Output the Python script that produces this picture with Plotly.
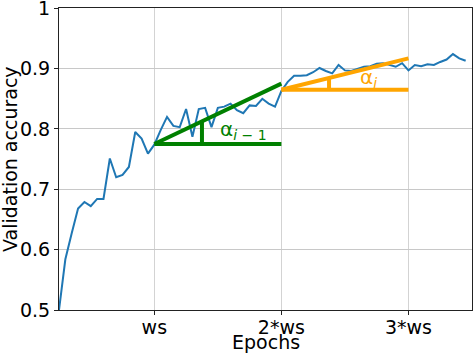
import plotly.graph_objects as go

epochs = list(range(5, 70))
accuracy = [0.500, 0.584, 0.627, 0.668, 0.679, 0.672, 0.684, 0.684, 0.751, 0.720,
            0.724, 0.737, 0.795, 0.784, 0.759, 0.774,
            0.798, 0.820, 0.805, 0.803, 0.833, 0.787, 0.833, 0.835, 0.803, 0.835,
            0.837, 0.842, 0.831, 0.826, 0.839, 0.838, 0.850, 0.842, 0.837,
            0.863, 0.878, 0.888, 0.888, 0.889, 0.894, 0.901, 0.896, 0.892, 0.906,
            0.897, 0.896, 0.899, 0.903,
            0.904, 0.908, 0.909, 0.906, 0.903, 0.909, 0.897, 0.906, 0.904, 0.907,
            0.906, 0.911, 0.915, 0.924, 0.917, 0.913]

# slope triangles
green_x = [20, 40]
green_slope = [0.775, 0.875]
green_base = [0.775, 0.775]
green_tick_x = [27.5, 27.5]
green_tick_y = [0.775, 0.8125]

orange_x = [40, 60]
orange_slope = [0.865, 0.917]
orange_base = [0.865, 0.865]
orange_tick_x = [47.5, 47.5]
orange_tick_y = [0.865, 0.8845]

x_tickvals = [20, 40, 60]
x_ticktext = ["ws", "2*ws", "3*ws"]
y_tickvals = [0.5, 0.6, 0.7, 0.8, 0.9, 1.0]
y_ticktext = ["0.5", "0.6", "0.7", "0.8", "0.9", "1"]

GREEN = "#008000"
ORANGE = "#FFA500"
FONT = "DejaVu Sans"
FS = 19

fig = go.Figure()
fig.add_trace(go.Scatter(x=epochs, y=accuracy, mode="lines",
                         line=dict(color="#1f77b4", width=2), showlegend=False))
for xs, ys in [(green_x, green_slope), (green_x, green_base), (green_tick_x, green_tick_y)]:
    fig.add_trace(go.Scatter(x=xs, y=ys, mode="lines",
                             line=dict(color=GREEN, width=4), showlegend=False))
for xs, ys in [(orange_x, orange_slope), (orange_x, orange_base), (orange_tick_x, orange_tick_y)]:
    fig.add_trace(go.Scatter(x=xs, y=ys, mode="lines",
                             line=dict(color=ORANGE, width=4), showlegend=False))

fig.add_annotation(x=30.0, y=0.798, text="α<sub><i>i</i> − 1</sub>", showarrow=False,
                   xanchor="left", yanchor="middle", font=dict(family=FONT, size=20, color=GREEN))
fig.add_annotation(x=52.0, y=0.884, text="α<sub><i>i</i></sub>", showarrow=False,
                   xanchor="left", yanchor="middle", font=dict(family=FONT, size=20, color=ORANGE))

# axis titles
fig.add_annotation(x=0.5, y=0, xref="paper", yref="paper", text="Epochs", showarrow=False,
                   xanchor="center", yanchor="middle", yshift=-32,
                   font=dict(family=FONT, size=FS, color="black"))
fig.add_annotation(x=0, y=0.5, xref="paper", yref="paper", text="Validation accuracy",
                   showarrow=False, textangle=-90, xanchor="center", yanchor="middle",
                   xshift=-49, font=dict(family=FONT, size=FS, color="black"))

fig.update_layout(
    width=474, height=356,
    margin=dict(l=59, r=2, t=8, b=46, autoexpand=False),
    paper_bgcolor="white", plot_bgcolor="white",
    font=dict(family=FONT, size=FS, color="black"),
)
fig.update_xaxes(range=[5, 70], tickvals=x_tickvals, ticktext=x_ticktext,
                 showgrid=True, gridcolor="#d3d3d3", gridwidth=1,
                 showline=True, linecolor="#222", linewidth=1, mirror=True,
                 ticks="outside", ticklen=4, tickcolor="#222", zeroline=False,
                 automargin=False, tickfont=dict(size=FS), ticklabelstandoff=-4)
fig.update_yaxes(range=[0.5, 1.0004], tickvals=y_tickvals, ticktext=y_ticktext,
                 showgrid=True, gridcolor="#c8c8c8", gridwidth=1,
                 showline=True, linecolor="#222", linewidth=1, mirror=True,
                 ticks="outside", ticklen=4, tickcolor="#222", zeroline=False,
                 automargin=False, tickfont=dict(size=FS), ticklabeloverflow="allow")

fig.write_html("out.html", config={"displayModeBar": False},
               post_script="document.body.style.margin='0';document.body.style.overflow='hidden';")
